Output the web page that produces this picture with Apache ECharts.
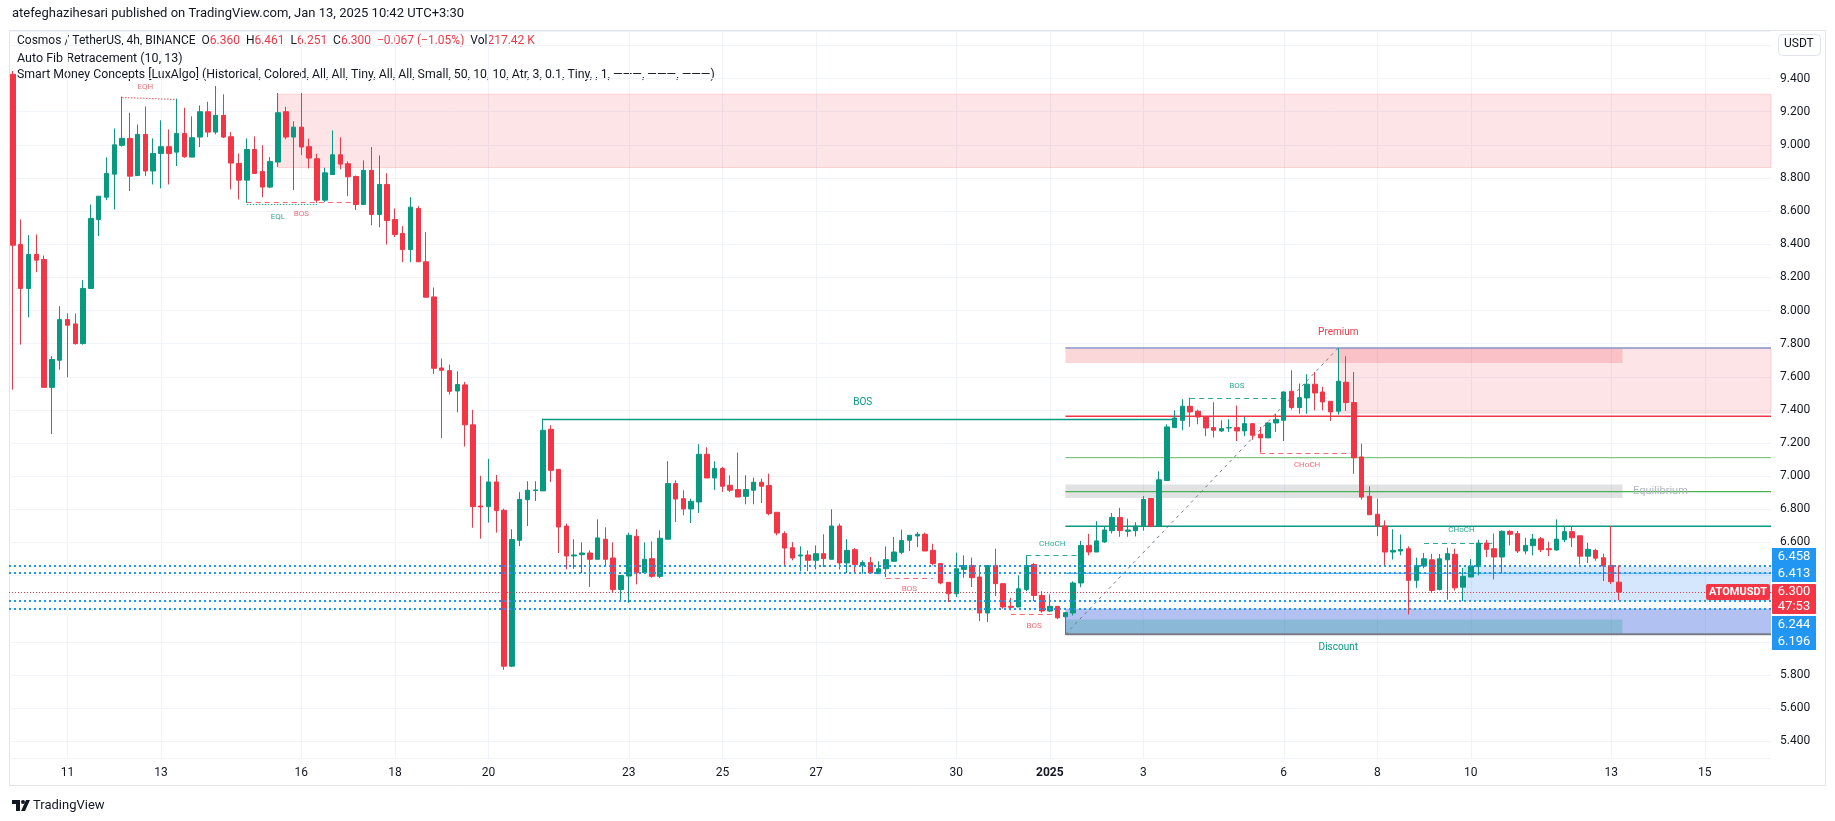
<!DOCTYPE html>
<html><head><meta charset="utf-8">
<script src="https://cdn.jsdelivr.net/npm/echarts@6/dist/echarts.min.js"></script>
<style>html,body{margin:0;padding:0;background:#fff;}#c{width:1835px;height:821px;}</style>
</head><body><div id="c"></div>
<script>
// ---------------- DATA ----------------
const START_UTC = Date.UTC(2024, 11, 9, 20, 0); // first 4h bar (Dec 9 23:30 local, UTC+3:30)
const N_SLOTS = 226;
const categories = Array.from({length: N_SLOTS}, (_, i) => {
  const d = new Date(START_UTC + i * 4 * 3600e3 + 3.5 * 3600e3);
  return d.toISOString().slice(0, 16).replace('T', ' ');
});
// time axis labels: [slot index, text]
const dayLabels = [[7,'11'],[19,'13'],[37,'16'],[49,'18'],[61,'20'],[79,'23'],[91,'25'],[103,'27'],[121,'30'],[133,'2025'],[145,'3'],[163,'6'],[175,'8'],[187,'10'],[205,'13'],[217,'15']];
// price axis labels hidden behind tags
const hiddenPriceTicks = [9.6, 6.4, 6.2, 6.0];

// candles: [open, close, low, high]
const candles = [
[9.426,8.394,7.522,9.446],[8.398,8.133,7.794,8.550],[8.133,8.338,7.959,8.455],[8.338,8.304,8.231,8.459],
[8.308,7.536,7.536,8.332],[7.536,7.704,7.254,7.724],[7.700,7.945,7.643,8.026],[7.945,7.911,7.597,7.982],
[7.919,7.800,7.794,7.982],[7.800,8.133,7.794,8.183],[8.133,8.555,8.133,8.640],[8.549,8.690,8.449,8.690],
[8.684,8.827,8.666,8.924],[8.823,9.000,8.610,9.099],[8.997,9.039,8.989,9.291],[9.039,8.811,8.721,9.194],
[8.815,9.063,8.811,9.123],[9.063,8.842,8.811,9.232],[8.842,8.948,8.761,9.039],[8.948,8.989,8.737,9.148],
[8.989,8.948,8.761,9.093],[8.956,9.069,8.872,9.279],[9.069,8.928,8.922,9.224],[8.926,9.043,8.926,9.172],
[9.047,9.200,8.987,9.238],[9.200,9.077,9.047,9.260],[9.077,9.178,9.063,9.355],[9.178,9.047,9.041,9.305],
[9.049,8.890,8.731,9.077],[8.888,8.787,8.670,8.948],[8.787,8.972,8.650,9.039],[8.972,8.827,8.827,9.051],
[8.839,8.745,8.684,8.997],[8.745,8.900,8.739,8.926],[8.896,9.194,8.866,9.313],[9.200,9.047,9.033,9.230],
[9.047,9.107,8.727,9.142],[9.107,8.987,8.938,9.313],[8.989,8.920,8.858,9.037],[8.916,8.666,8.650,8.946],
[8.666,8.831,8.654,8.862],[8.821,8.940,8.821,9.087],[8.940,8.884,8.852,9.045],[8.886,8.807,8.690,8.900],
[8.809,8.640,8.606,8.815],[8.640,8.846,8.640,8.906],[8.846,8.580,8.515,8.987],[8.580,8.761,8.503,8.936],
[8.761,8.543,8.398,8.829],[8.549,8.459,8.443,8.616],[8.465,8.368,8.292,8.509],[8.368,8.624,8.292,8.684],
[8.616,8.294,8.294,8.630],[8.294,8.080,8.080,8.473],[8.082,7.651,7.617,8.139],[7.653,7.639,7.230,7.710],
[7.637,7.512,7.492,7.673],[7.514,7.553,7.385,7.633],[7.551,7.310,7.179,7.569],[7.310,6.816,6.689,7.400],
[6.820,6.814,6.623,7.002],[6.816,6.965,6.720,7.104],[6.965,6.792,6.659,7.007],[6.794,5.853,5.831,6.804],
[5.853,6.617,5.847,6.679],[6.613,6.860,6.578,6.903],[6.858,6.915,6.699,6.969],[6.913,6.917,6.850,6.969],
[6.911,7.277,6.911,7.348],[7.283,7.035,6.965,7.307],[7.041,6.693,6.536,7.041],[6.699,6.518,6.437,6.713],
[6.518,6.524,6.441,6.619],[6.526,6.536,6.415,6.600],[6.536,6.498,6.331,6.552],[6.498,6.627,6.498,6.739],
[6.619,6.498,6.457,6.691],[6.506,6.316,6.296,6.600],[6.316,6.401,6.250,6.401],[6.397,6.643,6.236,6.659],
[6.637,6.417,6.347,6.679],[6.417,6.498,6.411,6.600],[6.502,6.395,6.387,6.606],[6.395,6.625,6.385,6.673],
[6.619,6.955,6.619,7.090],[6.955,6.862,6.723,6.975],[6.864,6.802,6.764,6.915],[6.802,6.848,6.717,6.864],
[6.844,7.132,6.778,7.193],[7.132,6.989,6.989,7.174],[6.989,7.046,6.917,7.090],[7.046,6.939,6.905,7.056],
[6.945,6.915,6.905,7.005],[6.919,6.874,6.874,7.142],[6.878,6.919,6.830,7.005],[6.915,6.963,6.830,6.991],
[6.963,6.939,6.838,6.985],[6.943,6.774,6.764,7.015],[6.782,6.657,6.643,6.782],[6.653,6.566,6.455,6.667],
[6.568,6.506,6.492,6.602],[6.518,6.524,6.425,6.576],[6.524,6.492,6.427,6.552],[6.492,6.532,6.437,6.582],
[6.532,6.502,6.451,6.649],[6.498,6.699,6.498,6.800],[6.699,6.476,6.437,6.713],[6.476,6.552,6.415,6.619],
[6.556,6.466,6.417,6.566],[6.462,6.478,6.411,6.492],[6.478,6.415,6.411,6.512],[6.411,6.441,6.411,6.486],
[6.441,6.496,6.391,6.576],[6.486,6.542,6.482,6.633],[6.540,6.611,6.528,6.677],[6.613,6.643,6.548,6.643],
[6.639,6.649,6.572,6.663],[6.649,6.548,6.548,6.659],[6.552,6.472,6.461,6.592],[6.472,6.355,6.347,6.472],
[6.359,6.290,6.240,6.359],[6.290,6.441,6.270,6.538],[6.437,6.461,6.387,6.522],[6.461,6.387,6.331,6.508],
[6.391,6.174,6.125,6.451],[6.174,6.461,6.119,6.461],[6.461,6.351,6.276,6.562],[6.351,6.210,6.200,6.351],
[6.214,6.208,6.190,6.266],[6.210,6.320,6.210,6.401],[6.316,6.461,6.306,6.522],[6.467,6.280,6.246,6.475],
[6.280,6.186,6.176,6.306],[6.186,6.214,6.180,6.286],[6.214,6.145,6.137,6.214],[6.151,6.176,6.045,6.180],
[6.174,6.355,6.159,6.365],[6.355,6.582,6.330,6.609],[6.582,6.542,6.522,6.652],[6.542,6.609,6.542,6.728],
[6.603,6.675,6.597,6.695],[6.671,6.751,6.654,6.778],[6.751,6.671,6.634,6.809],[6.667,6.675,6.634,6.743],
[6.671,6.698,6.636,6.722],[6.698,6.859,6.671,6.879],[6.865,6.698,6.692,6.865],[6.698,6.978,6.698,7.029],
[6.974,7.297,6.974,7.313],[7.293,7.351,7.293,7.397],[7.337,7.422,7.277,7.464],[7.422,7.388,7.297,7.474],
[7.392,7.357,7.313,7.402],[7.357,7.291,7.241,7.357],[7.293,7.277,7.233,7.446],[7.273,7.287,7.267,7.337],
[7.291,7.293,7.267,7.343],[7.293,7.273,7.212,7.426],[7.273,7.317,7.241,7.357],[7.317,7.247,7.220,7.317],
[7.253,7.231,7.142,7.297],[7.231,7.321,7.231,7.327],[7.321,7.343,7.267,7.377],[7.337,7.508,7.212,7.512],
[7.512,7.414,7.402,7.639],[7.414,7.474,7.377,7.559],[7.472,7.555,7.377,7.615],[7.555,7.502,7.398,7.629],
[7.508,7.448,7.398,7.539],[7.452,7.388,7.334,7.452],[7.392,7.573,7.371,7.774],[7.567,7.444,7.394,7.724],
[7.444,7.111,7.014,7.629],[7.116,6.874,6.858,7.196],[6.878,6.767,6.767,6.938],[6.770,6.699,6.638,6.864],
[6.699,6.542,6.461,6.733],[6.542,6.552,6.497,6.679],[6.548,6.558,6.522,6.648],[6.562,6.371,6.165,6.576],
[6.371,6.461,6.326,6.508],[6.458,6.501,6.444,6.536],[6.495,6.310,6.300,6.530],[6.316,6.501,6.310,6.530],
[6.495,6.532,6.254,6.568],[6.528,6.326,6.310,6.562],[6.330,6.395,6.246,6.447],[6.391,6.458,6.391,6.499],
[6.454,6.596,6.401,6.616],[6.596,6.558,6.512,6.616],[6.562,6.512,6.377,6.653],[6.512,6.667,6.415,6.673],
[6.667,6.649,6.582,6.673],[6.653,6.548,6.536,6.669],[6.548,6.582,6.528,6.628],[6.580,6.620,6.522,6.651],
[6.622,6.556,6.542,6.632],[6.562,6.556,6.518,6.604],[6.554,6.620,6.550,6.739],[6.616,6.665,6.602,6.693],
[6.665,6.628,6.572,6.697],[6.640,6.517,6.467,6.640],[6.517,6.558,6.475,6.598],[6.552,6.505,6.489,6.562],
[6.507,6.457,6.367,6.532],[6.461,6.363,6.349,6.699],[6.360,6.300,6.251,6.461]
];

// zones (slot range, price range, kind); to:null = extends to the right edge
const zones = [
  {from:34,  to:null,   top:9.306, bottom:8.863, kind:'bearOB'},
  {from:170, to:null,   top:7.770, bottom:7.381, kind:'bearOB'},
  {from:135, to:null,   top:6.200, bottom:6.045, kind:'bullOB2'},
  {from:186, to:null,   top:6.451, bottom:6.246, kind:'bullOB'},
  {from:135, to:206.45, top:7.770, bottom:7.683, kind:'premium'},
  {from:135, to:206.45, top:6.950, bottom:6.868, kind:'equilibrium'},
  {from:135, to:206.45, top:6.135, bottom:6.045, kind:'discount'}
];
// auto fib levels (from slot 135 to right edge)
const fibFrom = 135;
const fibLevels = [7.774, 7.362, 7.112, 6.906, 6.698, 6.413, 6.045];
const fibTrend = {from:135, p0:6.045, to:170, p1:7.774};
// big BOS line
const bosLine = {from:68, to:149, price:7.348};
// structure lines
const structLines = [
  {from:14,  to:21,  p0:9.291, p1:9.279, kind:'bear', dash:'dot'},
  {from:30,  to:39,  p0:8.644, p1:8.644, kind:'bull', dash:'dot'},
  {from:30,  to:44,  p0:8.652, p1:8.652, kind:'bear', dash:'dash'},
  {from:112, to:118, p0:6.387, p1:6.387, kind:'bear', dash:'dash'},
  {from:128, to:134, p0:6.169, p1:6.169, kind:'bear', dash:'dash'},
  {from:130, to:137, p0:6.522, p1:6.522, kind:'bull', dash:'dash'},
  {from:151, to:163, p0:7.474, p1:7.474, kind:'bull', dash:'dash'},
  {from:160, to:172, p0:7.142, p1:7.142, kind:'bear', dash:'dash'},
  {from:181, to:190, p0:6.598, p1:6.598, kind:'bull', dash:'dash'}
];
const structLabels = [
  {text:'EQH',   slot:17,    price:9.351, kind:'bear'},
  {text:'EQL',   slot:34,    price:8.566, kind:'bull'},
  {text:'BOS',   slot:37,    price:8.581, kind:'bear'},
  {text:'BOS',   slot:115,   price:6.317, kind:'bear'},
  {text:'BOS',   slot:131,   price:6.095, kind:'bear'},
  {text:'CHoCH', slot:133.3, price:6.592, kind:'bull'},
  {text:'BOS',   slot:157,   price:7.544, kind:'bull'},
  {text:'CHoCH', slot:166,   price:7.067, kind:'bear'},
  {text:'CHoCH', slot:185.8, price:6.677, kind:'bull'}
];
const zoneLabels = [
  {text:'BOS',         slot:109,   price:7.444, kind:'bos'},
  {text:'Premium',     slot:170,   price:7.866, kind:'premium'},
  {text:'Discount',    slot:170,   price:5.965, kind:'discount'},
  {text:'Equilibrium', slot:207.8, price:6.907, kind:'equilibrium'}
];
const dottedLevels = [6.458, 6.413, 6.244, 6.196];
const lastPrice = 6.300;
const countdown = '47:53';
const symbolName = 'ATOMUSDT';
const tagsAbove = [6.413, 6.458];
const tagsBelow = [6.244, 6.196];

// ---------------- STYLE ----------------
const GREEN = '#089981', RED = '#f23645', TXT = '#131722', GRIDC = '#f0f3fa';
const FONT = 'Roboto, "Liberation Sans", sans-serif';
const zoneStyle = {
  bearOB:      {fill:'rgba(242,54,69,0.13)', stroke:'rgba(242,54,69,0.18)'},
  bullOB:      {fill:'rgba(33,130,243,0.19)', stroke:null},
  bullOB2:     {fill:'rgba(60,100,220,0.40)', stroke:null},
  premium:     {fill:'rgba(242,54,69,0.20)', stroke:null},
  equilibrium: {fill:'rgba(120,123,134,0.22)', stroke:null},
  discount:    {fill:'rgba(8,153,129,0.22)', stroke:null}
};
const fibColors = ['#8a93c8', '#f23645', '#81c784', '#4caf50', '#089981', '#64b5f6', '#787b86'];
const fibWidths = [1.5, 1.5, 1.2, 1.2, 1.5, 1.2, 2];
const kindColor = {bull:'rgba(8,153,129,0.85)', bear:'rgba(242,54,69,0.75)'};

// y range calibrated to plot rectangle
const PLOT_TOP = 31, PLOT_BOTTOM = 758;
const PX_PER_UNIT = 165.65, Y8 = 310.5; // pixel row of price 8.000
const Y_MAX = 8 + (Y8 - PLOT_TOP) / PX_PER_UNIT;
const Y_MIN = 8 - (PLOT_BOTTOM - Y8) / PX_PER_UNIT;

const labelMap = {}; dayLabels.forEach(([s, t]) => labelMap[s] = t);
const cr = v => Math.round(v) + 0.5;

function helpers(params, api) {
  const cs = params.coordSys;
  const bw = api.size([1, 0])[0];
  const x0 = api.coord([0, 7])[0];
  return {
    cs,
    X: s => s == null ? cs.x + cs.width : x0 + s * bw,
    Y: p => api.coord([0, p])[1]
  };
}
function txt(x, y, text, fill, font, align, valign) {
  return {type:'text', x, y, silent:true,
    style:{text, fill, font, align:align||'center', textAlign:align||'center',
           verticalAlign:valign||'middle', textVerticalAlign:valign||'middle'}};
}

function renderBack(params, api) {
  const {cs, X, Y} = helpers(params, api);
  const ch = [];
  dayLabels.forEach(([s]) => {
    const x = cr(X(s));
    ch.push({type:'line', shape:{x1:x, y1:cs.y, x2:x, y2:cs.y + cs.height}, style:{stroke:GRIDC, lineWidth:1}});
  });
  zones.forEach(z => {
    const st = zoneStyle[z.kind];
    const xa = X(z.from), xb = X(z.to), ya = Y(z.top), yb = Y(z.bottom);
    ch.push({type:'rect', shape:{x:xa, y:ya, width:xb - xa, height:yb - ya},
      style:{fill:st.fill, stroke:st.stroke || 'none', lineWidth:1}});
  });
  fibLevels.forEach((p, i) => {
    const y = Y(p);
    ch.push({type:'line', shape:{x1:X(fibFrom), y1:y, x2:X(null), y2:y}, style:{stroke:fibColors[i], lineWidth:fibWidths[i]}});
  });
  ch.push({type:'line', shape:{x1:X(fibTrend.from), y1:Y(fibTrend.p0), x2:X(fibTrend.to), y2:Y(fibTrend.p1)},
    style:{stroke:'#787b86', lineWidth:1, lineDash:[3,4]}});
  ch.push({type:'line', shape:{x1:X(bosLine.from), y1:cr(Y(bosLine.price)), x2:X(bosLine.to), y2:cr(Y(bosLine.price))},
    style:{stroke:GREEN, lineWidth:1.5}});
  structLines.forEach(l => {
    ch.push({type:'line', shape:{x1:X(l.from), y1:cr(Y(l.p0)), x2:X(l.to), y2:cr(Y(l.p1))},
      style:{stroke:kindColor[l.kind], lineWidth:1.2, lineDash: l.dash === 'dot' ? [1.5,1.5] : [5,4]}});
  });
  return {type:'group', children:ch};
}

function renderTop(params, api) {
  const {cs, X, Y} = helpers(params, api);
  const ch = [];
  dottedLevels.forEach(p => {
    const y = Math.round(Y(p));
    ch.push({type:'line', shape:{x1:cs.x, y1:y, x2:cs.x + cs.width, y2:y}, style:{stroke:'#2196f3', lineWidth:2, lineDash:[2,3]}});
  });
  const yl = cr(Y(lastPrice));
  ch.push({type:'line', shape:{x1:cs.x, y1:yl, x2:cs.x + cs.width, y2:yl}, style:{stroke:RED, lineWidth:1, lineDash:[1,2]}});
  structLabels.forEach(l => ch.push(txt(X(l.slot), Y(l.price), l.text, kindColor[l.kind], '8px ' + FONT)));
  zoneLabels.forEach(l => {
    if (l.kind === 'bos') ch.push(txt(X(l.slot), Y(l.price), l.text, GREEN, '10px ' + FONT));
    else if (l.kind === 'premium') ch.push(txt(X(l.slot), Y(l.price), l.text, RED, '10px ' + FONT));
    else if (l.kind === 'discount') ch.push(txt(X(l.slot), Y(l.price), l.text, GREEN, '10px ' + FONT));
    else ch.push(txt(X(l.slot), Y(l.price), l.text, '#b2b5be', '11px ' + FONT, 'left'));
  });
  // symbol tag on the price line
  const yLast = Y(lastPrice);
  const rx = cs.x + cs.width;
  ch.push({type:'rect', shape:{x:rx - 65, y:yLast - 8, width:64, height:16, r:2}, style:{fill:RED}});
  ch.push(txt(rx - 33, yLast, symbolName, '#fff', 'bold 11px ' + FONT));
  // price axis tags
  const tx = rx + 1, tw = 44, th = 17;
  const redTop = yLast - 8, redH = 30;
  ch.push({type:'rect', shape:{x:tx, y:redTop, width:tw, height:redH, r:1}, style:{fill:RED}});
  ch.push(txt(tx + tw / 2, yLast, lastPrice.toFixed(3), '#fff', '13px ' + FONT));
  ch.push(txt(tx + tw / 2, yLast + 14.5, countdown, '#fff', '13px ' + FONT));
  let lim = redTop - 2;
  tagsAbove.forEach(p => {
    const b = Math.min(Y(p) + th / 2, lim), t = b - th;
    ch.push({type:'rect', shape:{x:tx, y:t, width:tw, height:th}, style:{fill:'#2196f3'}});
    ch.push(txt(tx + tw / 2, t + th / 2, p.toFixed(3), '#fff', '13px ' + FONT));
    lim = t;
  });
  lim = redTop + redH + 2;
  tagsBelow.forEach(p => {
    const t = Math.max(Y(p) - th / 2, lim);
    ch.push({type:'rect', shape:{x:tx, y:t, width:tw, height:th}, style:{fill:'#2196f3'}});
    ch.push(txt(tx + tw / 2, t + th / 2, p.toFixed(3), '#fff', '13px ' + FONT));
    lim = t + th;
  });
  return {type:'group', children:ch};
}

const chart = echarts.init(document.getElementById('c'), null, {renderer:'canvas'});
chart.setOption({
  animation:false,
  backgroundColor:'#ffffff',
  grid:{left:9, right:64, top:PLOT_TOP, bottom:821 - PLOT_BOTTOM, containLabel:false},
  xAxis:{
    type:'category', data:categories, boundaryGap:true,
    axisLine:{show:false}, axisTick:{show:false}, splitLine:{show:false},
    axisLabel:{
      interval:(i) => labelMap[i] !== undefined,
      formatter:(v, i) => labelMap[i] === '2025' ? '{b|2025}' : (labelMap[i] || ''),
      color:TXT, fontSize:12, fontFamily:FONT, margin:9,
      rich:{b:{fontWeight:'bold', fontSize:12, color:TXT, fontFamily:FONT}}
    }
  },
  yAxis:{
    type:'value', position:'right', min:Y_MIN, max:Y_MAX,
    splitNumber:22, minInterval:0.2, maxInterval:0.2,
    axisLine:{show:false}, axisTick:{show:false},
    axisLabel:{
      showMinLabel:false, showMaxLabel:false, margin:9, color:TXT, fontSize:12, fontFamily:FONT,
      formatter:(v) => hiddenPriceTicks.some(h => Math.abs(h - v) < 1e-6) ? '' : v.toFixed(3)
    },
    splitLine:{lineStyle:{color:GRIDC, width:1}}
  },
  series:[
    {type:'custom', z:1, silent:true, clip:false, renderItem:renderBack, data:[[0, 7]], encode:{x:0, y:1}},
    {type:'candlestick', z:2, data:candles, barWidth:5,
      itemStyle:{color:GREEN, color0:RED, borderColor:GREEN, borderColor0:RED, borderWidth:1}},
    {type:'custom', z:3, silent:true, clip:false, renderItem:renderTop, data:[[0, 7]], encode:{x:0, y:1}}
  ],
  graphic:[
    {type:'rect', z:-1, silent:true, shape:{x:9.5, y:30.5, width:1816, height:755}, style:{fill:'none', stroke:'#e0e3eb', lineWidth:1}},
    {type:'text', left:12, top:7, silent:true, style:{text:'atefeghazihesari published on TradingView.com, Jan 13, 2025 10:42 UTC+3:30', font:'13px ' + FONT, fill:TXT}},
    {type:'text', left:17, top:35, silent:true, style:{
      text:'{d|Cosmos / TetherUS, 4h, BINANCE  O}{r|6.360}{d|  H}{r|6.461}{d|  L}{r|6.251}{d|  C}{r|6.300}{r|  −0.067 (−1.05%)}{d|  Vol}{r|217.42 K}',
      rich:{d:{fill:TXT, font:'12px ' + FONT}, r:{fill:RED, font:'12px ' + FONT}}}},
    {type:'text', left:17, top:52, silent:true, style:{text:'Auto Fib Retracement (10, 13)', font:'12.5px ' + FONT, fill:TXT}},
    {type:'text', left:17, top:69, silent:true, style:{text:'Smart Money Concepts [LuxAlgo] (Historical, Colored, All, All, Tiny, All, All, Small, 50, 10, 10, Atr, 3, 0.1, Tiny, , 1, ———, ———, ———)', font:'12.3px ' + FONT, fill:TXT}},
    {type:'rect', silent:true, shape:{x:1778.5, y:34.5, width:42, height:21, r:4}, style:{fill:'#fff', stroke:'#e0e3eb'}},
    {type:'text', left:1784, top:38, silent:true, style:{text:'USDT', font:'12px ' + FONT, fill:TXT}},
    // TradingView logo
    {type:'polygon', silent:true, shape:{points:[[12,800],[20,800],[20,811],[16,811],[16,804],[12,804]]}, style:{fill:TXT}},
    {type:'circle', silent:true, shape:{cx:23, cy:802, r:2}, style:{fill:TXT}},
    {type:'polygon', silent:true, shape:{points:[[26,800],[30,800],[25,811],[21,811]]}, style:{fill:TXT}},
    {type:'text', left:33, top:799, silent:true, style:{text:'TradingView', font:'13px ' + FONT, fill:TXT}}
  ]
});
</script>
</body></html>
